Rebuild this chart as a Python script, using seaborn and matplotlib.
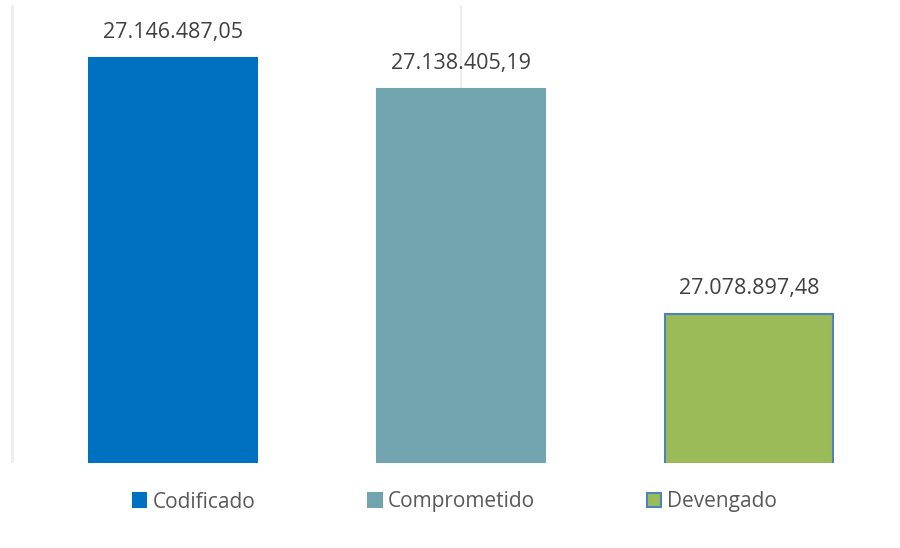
import matplotlib
matplotlib.use("Agg")
import matplotlib.pyplot as plt
import seaborn as sns
import pandas as pd
from matplotlib.patches import Patch

sns.set_style("white")
plt.rcParams['font.family'] = ['Open Sans', 'DejaVu Sans']

categorias = ["Codificado", "Comprometido", "Devengado"]
valores = [27146487.05, 27138405.19, 27078897.48]
etiquetas = ["27.146.487,05", "27.138.405,19", "27.078.897,48"]
colores = ["#0070C0", "#71A4AE", "#9BBB59"]
bordes = ["#0070C0", "#71A4AE", "#4F81BD"]

df = pd.DataFrame({"cat": categorias, "valor": valores})

fig = plt.figure(figsize=(9, 5.48), dpi=100)
ax = fig.add_axes([10 / 900, 1 - 463 / 548, 888 / 900, 458 / 548])

sns.barplot(data=df, x="cat", y="valor", hue="cat", palette=colores,
            saturation=1, width=0.583, legend=False, ax=ax, zorder=2)

for bar, borde in zip(ax.patches, bordes):
    bar.set_edgecolor(borde)
    bar.set_linewidth(1.5)

ax.set_ylim(27039500, 27160500)
ax.set_xlim(-0.566, 2.517)

# lineas verticales tenues del fondo
ax.axvline(-0.56, color="#EEEEEE", lw=2, zorder=0)
ax.axvline(1.0, color="#EEEEEE", lw=1.5, zorder=0)

for i, (v, t) in enumerate(zip(valores, etiquetas)):
    ax.annotate(t, (i, v), xytext=(0, 10.5), textcoords="offset points",
                ha="center", va="bottom", fontsize=15.5, color="#404040")

ax.set_xlabel("")
ax.set_ylabel("")
ax.set_xticks([])
ax.set_yticks([])
sns.despine(ax=ax, left=True, bottom=True)

handles = [Patch(facecolor=c, edgecolor=b, linewidth=1.5) for c, b in zip(colores, bordes)]
fig.legend(handles, categorias, loc="center", bbox_to_anchor=(455 / 900, 1 - 502 / 548),
           ncol=3, frameon=False, fontsize=15, handlelength=0.65, handleheight=0.65,
           handletextpad=0.3, columnspacing=5.4, labelcolor="#595959")

fig.savefig("out.png", dpi=100)
